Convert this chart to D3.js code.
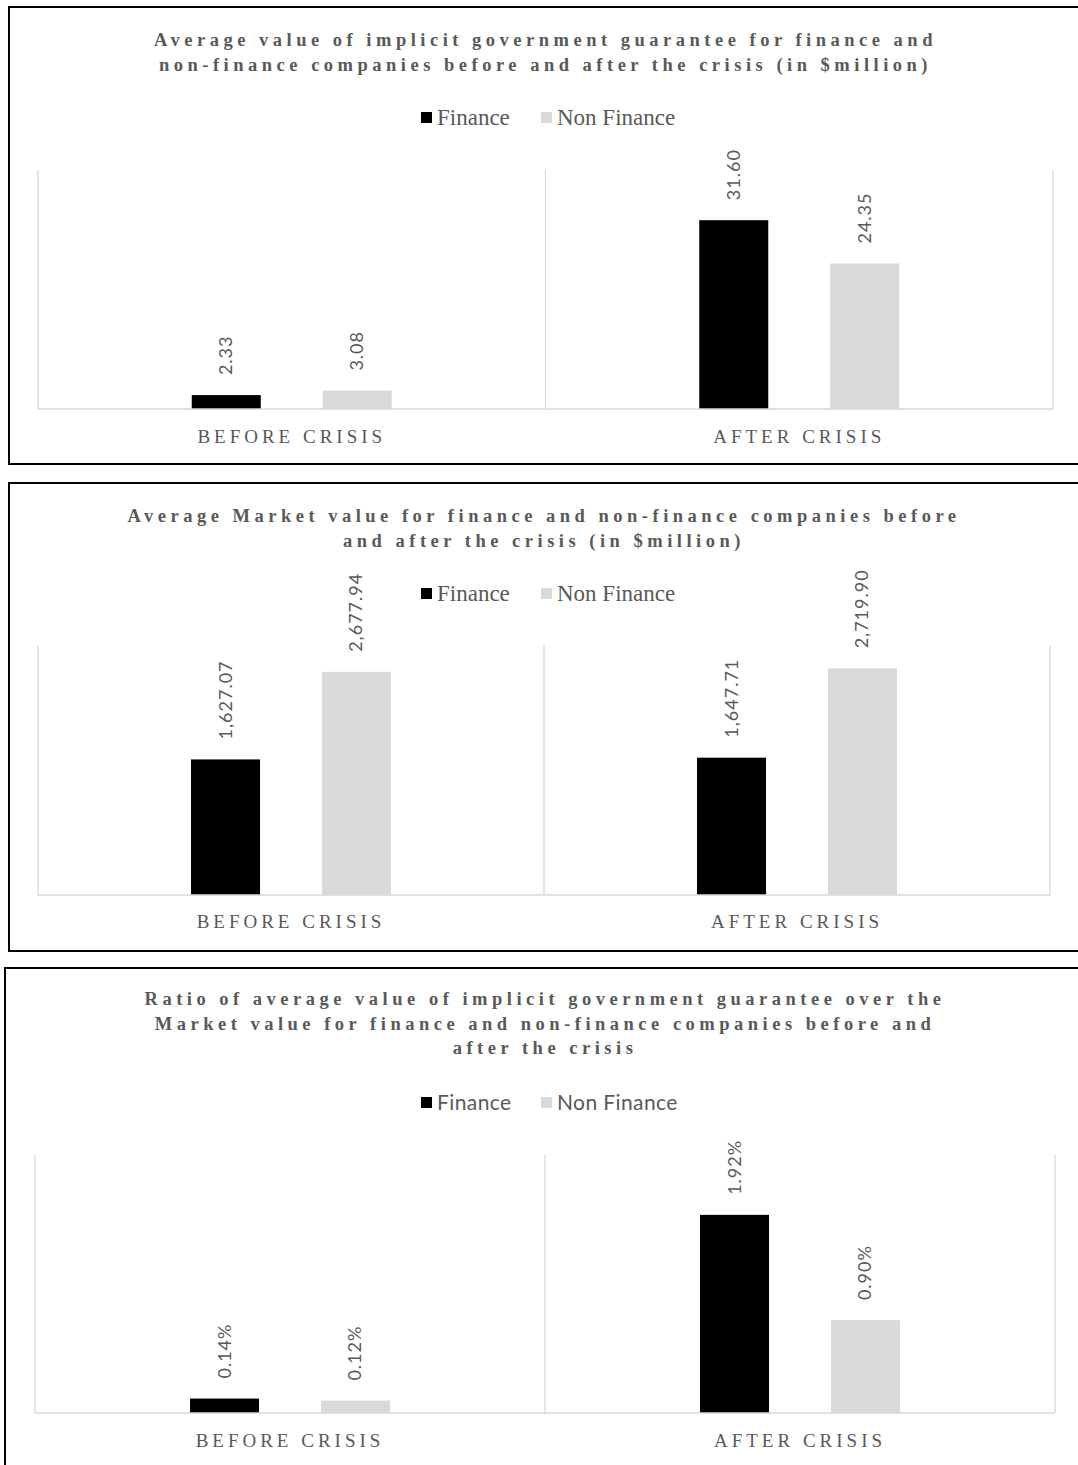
<!DOCTYPE html>
<html lang="en">
<head>
  <meta charset="UTF-8">
  <title>Implicit government guarantee</title>
  <script src="https://d3js.org/d3.v7.min.js"></script>
  <style>
    body { margin: 0; background: #fff; }
    svg { display: block; }
  </style>
</head>
<body>
  <svg id="chart"></svg>

  <script>
  // Daten
  const categories = ["BEFORE CRISIS", "AFTER CRISIS"];
  const series = ["Finance", "Non Finance"];

  const guaranteeFinance = [2.33, 31.60];
  const guaranteeNonFinance = [3.08, 24.35];

  const marketFinance = [1627.07, 1647.71];
  const marketNonFinance = [2677.94, 2719.90];

  const ratioFinance = [0.14, 1.92];
  const ratioNonFinance = [0.12, 0.90];

  const colors = { "Finance": "#000000", "Non Finance": "#d9d9d9" };
  const textGrey = "#595959";
  const serif = "'Liberation Serif', 'DejaVu Serif', serif";
  const sans = "Lato, 'Open Sans', sans-serif";

  const svg = d3.select("#chart")
    .attr("width", 1078)
    .attr("height", 1465);

  const panels = [
    {
      box: [9, 7, 1200, 457],
      title: ["Average value of implicit government guarantee for finance and",
              "non-finance companies before and after the crisis (in $million)"],
      titleY: 46, legendY: 118, legendFont: serif,
      plot: { left: 38, right: 1053, top: 170, bottom: 409 },
      max: 40, catY: 443,
      values: [guaranteeFinance, guaranteeNonFinance],
      fmt: d3.format(",.2f")
    },
    {
      box: [9, 483, 1200, 468],
      title: ["Average Market value for finance and non-finance companies before",
              "and after the crisis  (in $million)"],
      titleY: 522, legendY: 594, legendFont: serif,
      plot: { left: 38, right: 1050, top: 645, bottom: 895 },
      max: 3000, catY: 928,
      values: [marketFinance, marketNonFinance],
      fmt: d3.format(",.2f")
    },
    {
      box: [5, 968, 1200, 600],
      title: ["Ratio of average value of implicit government guarantee over the",
              "Market value for finance and non-finance companies before and",
              "after the crisis"],
      titleY: 1005, legendY: 1103, legendFont: sans,
      plot: { left: 35, right: 1055, top: 1155, bottom: 1413 },
      max: 2.5, catY: 1447,
      values: [ratioFinance, ratioNonFinance],
      fmt: d => d.toFixed(2) + "%"
    }
  ];

  panels.forEach(p => {
    const g = svg.append("g");

    // Rahmen
    g.append("rect")
      .attr("x", p.box[0]).attr("y", p.box[1])
      .attr("width", p.box[2]).attr("height", p.box[3])
      .attr("fill", "none")
      .attr("stroke", "#000")
      .attr("stroke-width", 2);

    // Titel
    const cx = (p.plot.left + p.plot.right) / 2;
    p.title.forEach((line, i) => {
      g.append("text")
        .attr("x", cx)
        .attr("y", p.titleY + i * 24.5)
        .attr("text-anchor", "middle")
        .attr("font-family", serif)
        .attr("font-weight", "bold")
        .attr("font-size", "18.5px")
        .attr("letter-spacing", "4.5px")
        .attr("fill", textGrey)
        .text(line);
    });

    // Legende
    const legendX = [421, 541];
    series.forEach((s, i) => {
      g.append("rect")
        .attr("x", legendX[i])
        .attr("y", p.legendY - 6)
        .attr("width", 11).attr("height", 11)
        .attr("fill", colors[s]);
      g.append("text")
        .attr("x", legendX[i] + 16)
        .attr("y", p.legendY + 7)
        .attr("font-family", p.legendFont)
        .attr("font-size", p.legendFont === serif ? "23px" : "21px")
        .attr("letter-spacing", p.legendFont === serif ? "0px" : "0.4px")
        .attr("fill", textGrey)
        .text(s);
    });

    // Skalen
    const x0 = d3.scaleBand()
      .domain(categories)
      .range([p.plot.left, p.plot.right]);
    const x1 = d3.scaleBand()
      .domain(series)
      .range([-100, 100])
      .paddingInner(0.473);
    const y = d3.scaleLinear()
      .domain([0, p.max])
      .range([p.plot.bottom, p.plot.top]);

    // vertikale Gitterlinien an den Kategoriegrenzen
    const bounds = categories.map(c => x0(c)).concat([p.plot.right]);
    g.selectAll(".grid")
      .data(bounds)
      .join("line")
      .attr("x1", d => d).attr("x2", d => d)
      .attr("y1", p.plot.top).attr("y2", p.plot.bottom)
      .attr("stroke", "#d9d9d9")
      .attr("stroke-width", 1.3);

    // Balken
    categories.forEach((c, ci) => {
      const center = x0(c) + x0.bandwidth() / 2;
      series.forEach((s, si) => {
        const v = p.values[si][ci];
        const bx = center + x1(s);
        g.append("rect")
          .attr("x", bx)
          .attr("y", y(v))
          .attr("width", x1.bandwidth())
          .attr("height", y(0) - y(v))
          .attr("fill", colors[s]);

        g.append("text")
          .attr("transform", `translate(${bx + x1.bandwidth() / 2 + 6},${y(v) - 20}) rotate(-90)`)
          .attr("font-family", sans)
          .attr("font-size", "18px")
          .attr("letter-spacing", "1px")
          .attr("fill", textGrey)
          .text(p.fmt(v));
      });

      // Kategorie-Beschriftung
      g.append("text")
        .attr("x", center)
        .attr("y", p.catY)
        .attr("text-anchor", "middle")
        .attr("font-family", serif)
        .attr("font-size", "19px")
        .attr("letter-spacing", "4px")
        .attr("fill", textGrey)
        .text(c);
    });

    // Grundlinie
    g.append("line")
      .attr("x1", p.plot.left).attr("x2", p.plot.right)
      .attr("y1", y(0)).attr("y2", y(0))
      .attr("stroke", "#d9d9d9")
      .attr("stroke-width", 1.5);
  });
  </script>
</body>
</html>
